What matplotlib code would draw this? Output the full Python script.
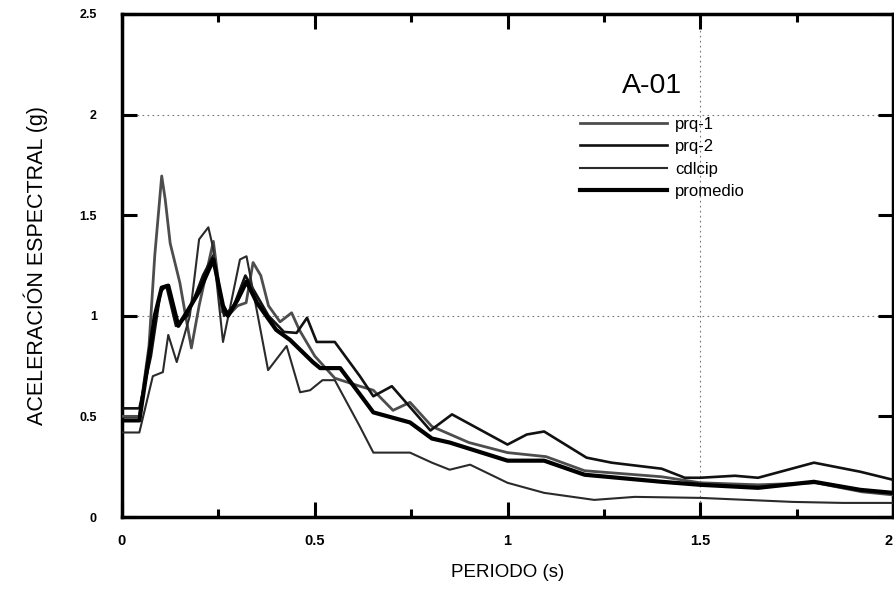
import matplotlib
matplotlib.use("Agg")
import matplotlib.pyplot as plt
from matplotlib.ticker import MultipleLocator, FixedLocator

plt.rcParams['font.family'] = ['Liberation Sans', 'DejaVu Sans']

# ---- data ----
t_prq1 = [0, 0.045, 0.07, 0.085, 0.103, 0.112, 0.125, 0.15, 0.165, 0.18, 0.2, 0.237, 0.26, 0.275,
          0.3, 0.322, 0.34, 0.36, 0.38, 0.41, 0.44, 0.46, 0.5, 0.552, 0.617, 0.652, 0.703, 0.747,
          0.804, 0.9, 1.0, 1.1, 1.2, 1.3, 1.4, 1.5, 1.65, 1.8, 1.92, 2.0]
a_prq1 = [0.50, 0.50, 0.85, 1.30, 1.695, 1.58, 1.36, 1.165, 1.0, 0.84, 1.05, 1.37, 1.02, 1.0,
          1.05, 1.065, 1.265, 1.2, 1.05, 0.97, 1.015, 0.93, 0.80, 0.69, 0.65, 0.63, 0.53, 0.57,
          0.45, 0.37, 0.32, 0.30, 0.23, 0.215, 0.20, 0.17, 0.16, 0.17, 0.125, 0.11]

t_prq2 = [0, 0.045, 0.075, 0.1, 0.115, 0.14, 0.17, 0.21, 0.237, 0.265, 0.29, 0.32, 0.35, 0.38,
          0.42, 0.453, 0.48, 0.505, 0.552, 0.617, 0.652, 0.70, 0.80, 0.856, 1.0, 1.05, 1.095,
          1.205, 1.27, 1.40, 1.46, 1.5, 1.59, 1.65, 1.795, 1.915, 2.0]
a_prq2 = [0.54, 0.54, 0.80, 1.12, 1.15, 0.95, 1.0, 1.2, 1.30, 1.0, 1.05, 1.20, 1.1, 1.0,
          0.92, 0.915, 0.99, 0.87, 0.87, 0.70, 0.60, 0.65, 0.43, 0.51, 0.36, 0.41, 0.425,
          0.295, 0.27, 0.24, 0.195, 0.195, 0.205, 0.195, 0.27, 0.225, 0.185]

t_cdlcip = [0, 0.045, 0.08, 0.106, 0.12, 0.142, 0.176, 0.2, 0.224, 0.236, 0.262, 0.306, 0.323,
            0.379, 0.427, 0.462, 0.488, 0.52, 0.552, 0.617, 0.652, 0.747, 0.804, 0.85, 0.903,
            1.0, 1.095, 1.225, 1.33, 1.5, 1.74, 1.87, 2.0]
a_cdlcip = [0.42, 0.42, 0.70, 0.72, 0.905, 0.77, 1.0, 1.38, 1.44, 1.34, 0.87, 1.28, 1.296,
            0.73, 0.85, 0.62, 0.63, 0.68, 0.68, 0.45, 0.32, 0.32, 0.27, 0.235, 0.26,
            0.17, 0.12, 0.085, 0.10, 0.095, 0.075, 0.07, 0.07]

t_prom = [0, 0.045, 0.07, 0.085, 0.103, 0.12, 0.146, 0.172, 0.2, 0.237, 0.262, 0.275, 0.3,
          0.323, 0.35, 0.40, 0.436, 0.495, 0.514, 0.566, 0.617, 0.652, 0.747, 0.804, 0.85,
          1.0, 1.095, 1.2, 1.4, 1.5, 1.65, 1.795, 1.915, 2.0]
a_prom = [0.48, 0.48, 0.80, 1.0, 1.14, 1.15, 0.95, 1.03, 1.12, 1.28, 1.05, 1.0, 1.08,
          1.17, 1.065, 0.93, 0.88, 0.77, 0.74, 0.74, 0.61, 0.52, 0.47, 0.39, 0.37,
          0.28, 0.28, 0.21, 0.175, 0.16, 0.145, 0.175, 0.135, 0.12]

x_ticks = [0, 0.5, 1, 1.5, 2]
x_labels = ["0", "0.5", "1", "1.5", "2"]
y_ticks = [0, 0.5, 1, 1.5, 2, 2.5]
y_labels = ["0", "0.5", "1", "1.5", "2", "2.5"]

# ---- figure ----
fig = plt.figure(figsize=(8.94, 5.89), dpi=100)
ax = fig.add_axes([122/894, 72/589, 771/894, 503/589])

# dotted grid lines (visible ones)
for yv in (1, 2):
    ax.axhline(yv, color='#777777', lw=0.8, ls=(0, (1.5, 3)), zorder=1)
ax.axvline(1.5, color='#777777', lw=0.8, ls=(0, (1.5, 3)), zorder=1)

ax.plot(t_prq1, a_prq1, color='#4d4d4d', lw=2.0, label='prq-1', zorder=3)
ax.plot(t_prq2, a_prq2, color='#111111', lw=1.9, label='prq-2', zorder=3)
ax.plot(t_cdlcip, a_cdlcip, color='#2a2a2a', lw=1.5, label='cdlcip', zorder=3)
ax.plot(t_prom, a_prom, color='black', lw=3.0, label='promedio', zorder=4)

ax.set_xlim(0, 2)
ax.set_ylim(0, 2.5)
ax.xaxis.set_major_locator(FixedLocator(x_ticks))
ax.set_xticklabels(x_labels)
ax.yaxis.set_major_locator(FixedLocator(y_ticks))
ax.set_yticklabels(y_labels)
ax.xaxis.set_minor_locator(MultipleLocator(0.25))

for s in ax.spines.values():
    s.set_linewidth(2.5)

ax.tick_params(axis='both', which='major', direction='in', length=11, width=2.2,
               top=True, right=True)
ax.tick_params(axis='x', which='minor', direction='in', length=6, width=2.2, top=True)
ax.tick_params(axis='x', which='major', pad=12, labelsize=10.5)
ax.tick_params(axis='y', which='major', pad=18, labelsize=9)
for lab in ax.get_xticklabels() + ax.get_yticklabels():
    lab.set_fontweight('bold')
ax.get_xticklabels()[-1].set_horizontalalignment('right')

ax.set_xlabel('PERIODO (s)', fontsize=13.5, labelpad=12)
ax.set_ylabel('ACELERACIÓN ESPECTRAL (g)', fontsize=15.5, labelpad=23)

ax.text(1.375, 2.14, 'A-01', fontsize=20.5, ha='center', va='center')

leg = ax.legend(loc='upper left', bbox_to_anchor=(580/894, 1 - 117/589),
                bbox_transform=fig.transFigure, frameon=False, fontsize=12,
                handlelength=5.2, handletextpad=0.5, labelspacing=0.44,
                borderpad=0, borderaxespad=0)

fig.savefig('out.png', dpi=100)
